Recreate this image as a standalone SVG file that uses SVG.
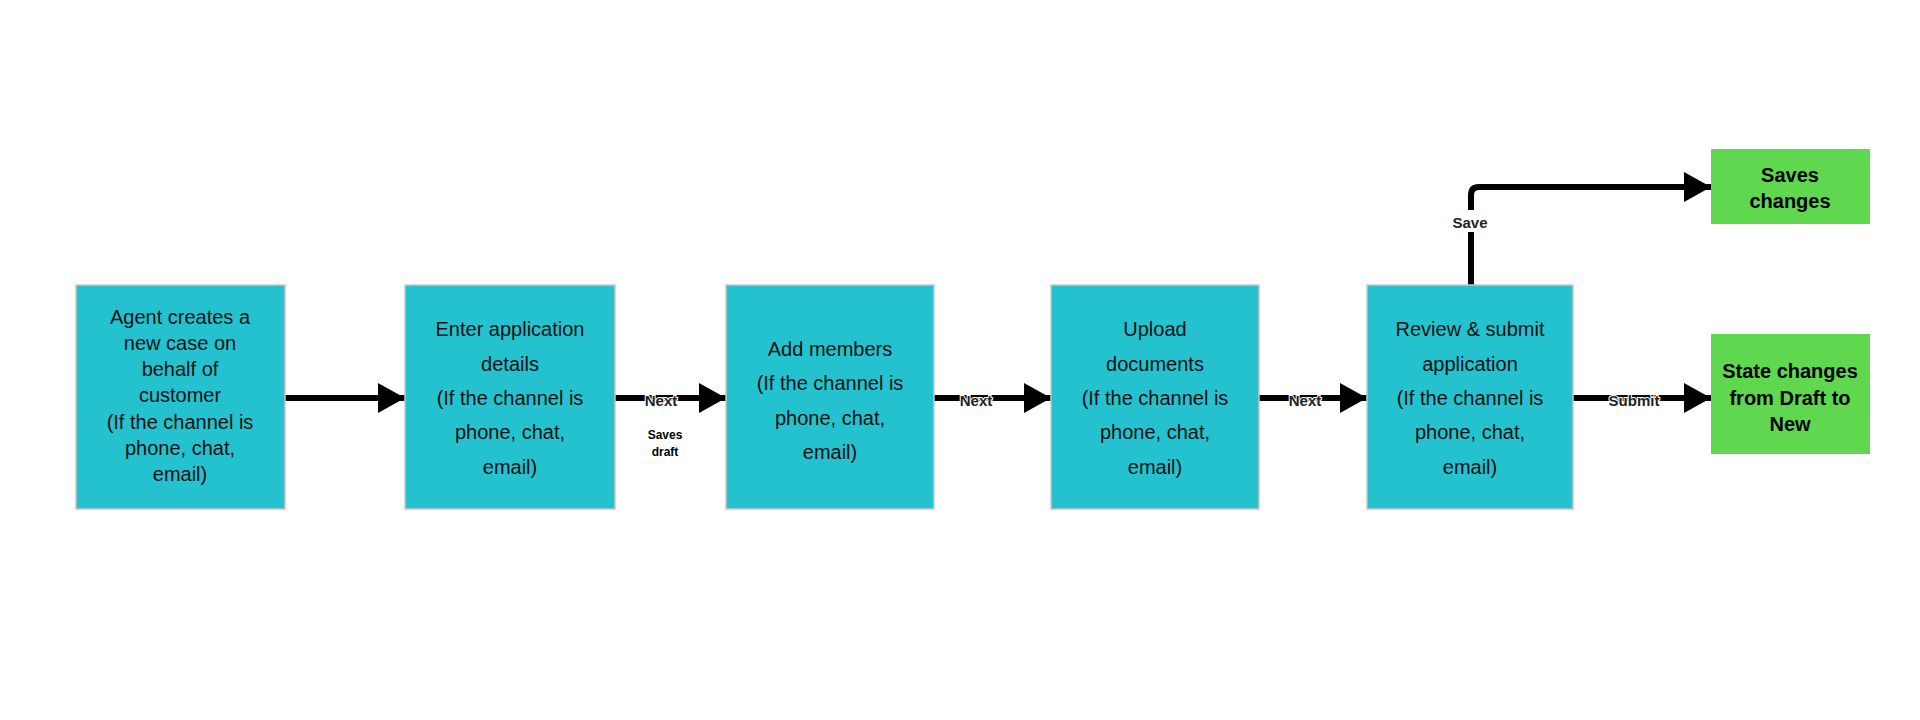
<svg xmlns="http://www.w3.org/2000/svg" width="1920" height="720" viewBox="0 0 1920 720">
<style>
.b{fill:#24c1cf;stroke:#c8c8c8;stroke-width:1.5}
.g{fill:#5fd74e}
.t{font-family:"Liberation Sans",Arial,sans-serif;font-size:20px;fill:#111;text-anchor:middle;dominant-baseline:central}
.gt{font-family:"Liberation Sans",Arial,sans-serif;font-size:20px;font-weight:bold;fill:#000;text-anchor:middle;dominant-baseline:central}
.c{fill:none;stroke:#000;stroke-width:6}
.l{font-family:"Liberation Sans",Arial,sans-serif;font-size:15px;font-weight:bold;fill:#222;text-anchor:middle;dominant-baseline:central;paint-order:stroke;stroke:#fff;stroke-width:2}
.s{font-family:"Liberation Sans",Arial,sans-serif;font-size:12px;font-weight:bold;fill:#000;text-anchor:middle;dominant-baseline:central}
</style>
<defs><marker id="a" markerWidth="5" markerHeight="5" refX="4.5" refY="2.5" orient="auto" markerUnits="strokeWidth"><path d="M0,0L4.5,2.5L0,5Z" fill="#000"/></marker></defs>
<rect width="1920" height="720" fill="#fff"/>
<g id="connectors">
<path class="c" marker-end="url(#a)" d="M285,398H405"/>
<path class="c" marker-end="url(#a)" d="M615,398H726"/>
<path class="c" marker-end="url(#a)" d="M934,398H1051"/>
<path class="c" marker-end="url(#a)" d="M1259,398H1367"/>
<path class="c" marker-end="url(#a)" d="M1573,398H1711"/>
<path class="c" marker-end="url(#a)" d="M1471,285V195Q1471,187 1479,187H1711"/>
<text class="l" x="661" y="400">Next</text>
<text class="s" x="665" y="435">Saves</text>
<text class="s" x="665" y="452">draft</text>
<text class="l" x="976" y="400">Next</text>
<text class="l" x="1305" y="400">Next</text>
<text class="l" x="1634" y="400">Submit</text>
<rect x="1450" y="210" width="42" height="22" fill="#fff"/>
<text class="l" x="1470" y="222">Save</text>
</g>
<g id="n1"><rect class="b" x="76" y="285" width="209" height="224"/>
<text class="t" x="180" y="317">Agent creates a</text><text class="t" x="180" y="343">new case on</text><text class="t" x="180" y="369">behalf of</text><text class="t" x="180" y="395">customer</text><text class="t" x="180" y="422">(If the channel is</text><text class="t" x="180" y="448">phone, chat,</text><text class="t" x="180" y="474">email)</text></g>
<g id="n2"><rect class="b" x="405" y="285" width="210" height="224"/>
<text class="t" x="510" y="329">Enter application</text><text class="t" x="510" y="364">details</text><text class="t" x="510" y="398">(If the channel is</text><text class="t" x="510" y="432">phone, chat,</text><text class="t" x="510" y="467">email)</text></g>
<g id="n3"><rect class="b" x="726" y="285" width="208" height="224"/>
<text class="t" x="830" y="349">Add members</text><text class="t" x="830" y="383">(If the channel is</text><text class="t" x="830" y="418">phone, chat,</text><text class="t" x="830" y="452">email)</text></g>
<g id="n4"><rect class="b" x="1051" y="285" width="208" height="224"/>
<text class="t" x="1155" y="329">Upload</text><text class="t" x="1155" y="364">documents</text><text class="t" x="1155" y="398">(If the channel is</text><text class="t" x="1155" y="432">phone, chat,</text><text class="t" x="1155" y="467">email)</text></g>
<g id="n5"><rect class="b" x="1367" y="285" width="206" height="224"/>
<text class="t" x="1470" y="329">Review &amp; submit</text><text class="t" x="1470" y="364">application</text><text class="t" x="1470" y="398">(If the channel is</text><text class="t" x="1470" y="432">phone, chat,</text><text class="t" x="1470" y="467">email)</text></g>
<g id="n6"><rect class="g" x="1711" y="149" width="159" height="75"/>
<text class="gt" x="1790" y="175">Saves</text><text class="gt" x="1790" y="201">changes</text></g>
<g id="n7"><rect class="g" x="1711" y="334" width="159" height="120"/>
<text class="gt" x="1790" y="371">State changes</text><text class="gt" x="1790" y="398">from Draft to</text><text class="gt" x="1790" y="424">New</text></g>
</svg>
